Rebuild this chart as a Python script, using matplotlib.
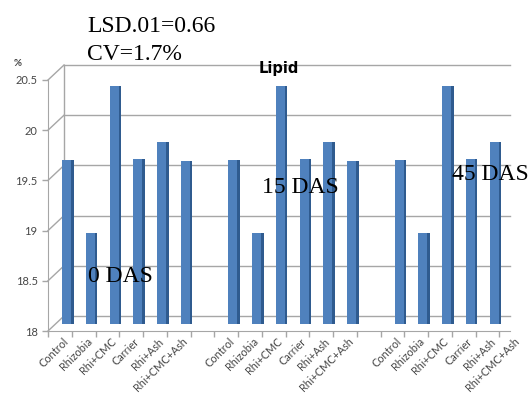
import matplotlib
matplotlib.use("Agg")
import matplotlib.pyplot as plt

# Lipid (%); the same pattern shows at every sampling date
treatments = ['Control', 'Rhizobia', 'Rhi+CMC', 'Carrier', 'Rhi+Ash', 'Rhi+CMC+Ash']
lipid_0das = [19.63, 18.90, 20.37, 19.64, 19.81, 19.62]
lipid_15das = [19.63, 18.90, 20.37, 19.64, 19.81, 19.62]
lipid_45das = [19.63, 18.90, 20.37, 19.64, 19.81, 19.62]
y_ticks = [18, 18.5, 19, 19.5, 20, 20.5]
y_ticklabels = ['18', '18.5', '19', '19.5', '20', '20.5']

W, H, DPI = 531, 396, 100
BAR = '#4f81bd'
BAR_DARK = '#2f5b8f'
GRID = '#a6a6a6'
TXT = '#464646'

fig = plt.figure(figsize=(W / DPI, H / DPI), dpi=DPI)

# front plane of the fake 3d box (pixels: x 48..510, y 80..331)
ax = fig.add_axes([48 / W, (H - 331) / H, 462 / W, 251 / H])
slot_px = 23.75
ax.set_xlim(0.5, 0.5 + 462 / slot_px)
ax.set_ylim(18, 20.5)
ax.set_facecolor('none')

# depth of the box in data units
DX = 16 / slot_px
DY = 15 / (251 / 2.5)

# back wall gridlines, left wall edges
xr = ax.get_xlim()[1]
for v in y_ticks:
    ax.plot([0.5 + DX, xr], [v + DY, v + DY], color=GRID, lw=1, clip_on=False, zorder=1)
    ax.plot([0.5, 0.5 + DX], [v, v + DY], color=GRID, lw=1, clip_on=False, zorder=1)
ax.plot([0.5 + DX, 0.5 + DX], [18 + DY, 20.5 + DY], color=GRID, lw=1, clip_on=False, zorder=1)

# bars sit half way into the box
groups = [lipid_0das, lipid_15das, lipid_45das]
slots = []
for g, vals in enumerate(groups):
    xs = [1 + 7 * g + i for i in range(len(vals))]
    slots += xs
    xc = [x + DX / 2 for x in xs]
    hts = [v - 18 for v in vals]
    ax.bar(xc, hts, bottom=18 + DY / 2, width=0.48, color=BAR, zorder=3)
    ax.bar([x + 0.19 for x in xc], hts, bottom=18 + DY / 2, width=0.1,
           color=BAR_DARK, zorder=4)

# axes styling
for s in ['top', 'right']:
    ax.spines[s].set_visible(False)
for s in ['left', 'bottom']:
    ax.spines[s].set_color(GRID)
ax.set_yticks(y_ticks)
ax.set_yticklabels(y_ticklabels, fontsize=8, color=TXT, family='Lato')
ax.set_xticks([x + 0.5 for x in range(20)])
ax.set_xticklabels([])
ax.tick_params(axis='both', color=GRID, length=4, width=1)

# category labels, one per bar slot (last one hangs past the crop)
for x, name in zip(slots, treatments * 3):
    ax.annotate(name, xy=(x, 18), xytext=(3, -5), textcoords='offset pixels',
                rotation=45, ha='right', va='top', rotation_mode='anchor',
                fontsize=7.8, color=TXT, family='Lato', annotation_clip=False)

def px_text(x, y, s, **kw):
    fig.text(x / W, 1 - y / H, s, va='baseline', **kw)

px_text(14, 66, '%', fontsize=7, weight='bold', color='#404040', family='Lato')
px_text(259, 73, 'Lipid', fontsize=10.5, weight='bold', color='black', family='DejaVu Sans')
serif = dict(fontsize=17, color='black', family='Liberation Serif')
px_text(87, 32, 'LSD.01=0.66', **serif)
px_text(87, 60, 'CV=1.7%', **serif)
px_text(88, 282, '0 DAS', **serif)
px_text(262, 193, '15 DAS', **serif)
px_text(452, 180, '45 DAS', **serif)

fig.savefig('out.png', dpi=DPI)
